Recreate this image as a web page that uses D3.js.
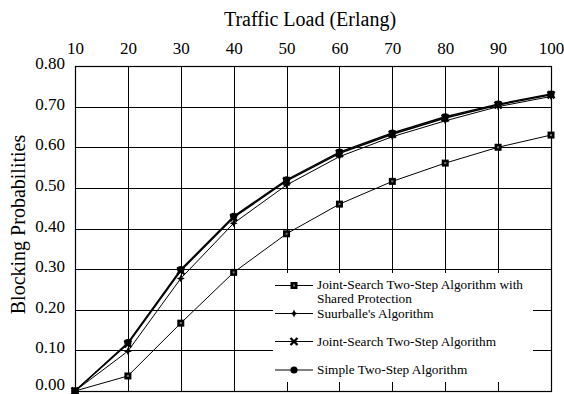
<!DOCTYPE html>
<html><head><meta charset="utf-8">
<script src="https://cdn.jsdelivr.net/npm/d3@7"></script>
<style>body{margin:0;background:#fff}svg{display:block}text{font-family:"Liberation Serif","Times New Roman",serif;fill:#000}</style>
</head><body>
<svg id="c" width="564" height="394"></svg>
<script>
const loads = [10,20,30,40,50,60,70,80,90,100];
const yTicks = [0,0.1,0.2,0.3,0.4,0.5,0.6,0.7,0.8];
const seriesNames = ["Joint-Search Two-Step Algorithm with|Shared Protection","Suurballe's Algorithm","Joint-Search Two-Step Algorithm","Simple Two-Step Algorithm"];
const sharedProt = [0.000,0.037,0.167,0.292,0.387,0.460,0.516,0.561,0.600,0.630];
const suurballe  = [0.000,0.098,0.277,0.413,0.507,0.577,0.626,0.665,0.700,0.725];
const jointSearch= [0.000,0.116,0.296,0.427,0.517,0.585,0.632,0.672,0.704,0.729];
const simple     = [0.000,0.119,0.299,0.430,0.520,0.588,0.635,0.675,0.706,0.731];
const seriesVals = [sharedProt,suurballe,jointSearch,simple];
const markers = ["square","diamond","cross","circle"];
const widths = [1,1,1.4,1.4];

const svg = d3.select("#c");
const L=75,R=551,T=66,B=391;
const x = d3.scaleLinear().domain([10,100]).range([L,R]);
const y = d3.scaleLinear().domain([0,0.8]).range([B,T]);

// gridlines
const g = svg.append("g");
g.selectAll(".vg").data(loads).enter().append("line")
 .attr("x1",d=>Math.round(x(d))+0.5).attr("x2",d=>Math.round(x(d))+0.5).attr("y1",T).attr("y2",B)
 .attr("stroke","#000").attr("stroke-width",1);
g.selectAll(".hg").data(yTicks).enter().append("line")
 .attr("y1",d=>Math.round(y(d))+0.5).attr("y2",d=>Math.round(y(d))+0.5).attr("x1",L).attr("x2",R)
 .attr("stroke","#000").attr("stroke-width",1);

// axes (labels only)
const xa = svg.append("g").attr("transform",`translate(0,${T})`)
 .call(d3.axisTop(x).tickValues(loads).tickSize(0).tickPadding(12).tickFormat(d3.format("d")));
xa.select(".domain").remove();
xa.selectAll("text").style("font-size","17px").style("font-family","Liberation Serif");
const ya = svg.append("g").attr("transform",`translate(${L},0)`)
 .call(d3.axisLeft(y).tickValues(yTicks).tickSize(0).tickPadding(10).tickFormat(d3.format(".2f")));
ya.select(".domain").remove();
ya.selectAll("text").style("font-size","17px").style("font-family","Liberation Serif")
 .attr("dy",d=>d===0?"-0.08em":"0.15em");

// border
svg.append("rect").attr("x",L+0.5).attr("y",T+0.5).attr("width",R-L).attr("height",B-T)
 .attr("fill","none").attr("stroke","#000").attr("stroke-width",1.2);

// titles
svg.append("text").attr("x",(L+R)/2-3).attr("y",26).attr("text-anchor","middle").style("font-size","20px").text("Traffic Load (Erlang)");
svg.append("text").attr("transform",`translate(25,${(T+B)/2-4}) rotate(-90)`).attr("text-anchor","middle").style("font-size","20px").text("Blocking Probabilities");

function drawMarker(sel,type,cx,cy){
  if(type==="square") {
    sel.append("rect").attr("x",cx-3.5).attr("y",cy-3.5).attr("width",7).attr("height",7).attr("fill","#000");
    sel.append("rect").attr("x",cx-1).attr("y",cy-1).attr("width",2).attr("height",2).attr("fill","#777");
  } else if(type==="diamond") {
    sel.append("path").attr("d",`M${cx},${cy-4}L${cx+1.2},${cy-1.2}L${cx+4},${cy}L${cx+1.2},${cy+1.2}L${cx},${cy+4}L${cx-1.2},${cy+1.2}L${cx-4},${cy}L${cx-1.2},${cy-1.2}Z`).attr("fill","#000");
  } else if(type==="cross") {
    sel.append("path").attr("d",`M${cx-3.5},${cy-3.5}L${cx+3.5},${cy+3.5}M${cx+3.5},${cy-3.5}L${cx-3.5},${cy+3.5}`).attr("stroke","#000").attr("stroke-width",2.4);
  } else {
    sel.append("circle").attr("cx",cx).attr("cy",cy).attr("r",3.6).attr("fill","#000");
  }
}

const line = d3.line().x((d,i)=>x(loads[i])).y(d=>y(d));
seriesVals.forEach((vals,si)=>{
  const sg = svg.append("g");
  sg.append("path").attr("d",line(vals)).attr("fill","none").attr("stroke","#000").attr("stroke-width",widths[si]);
  vals.forEach((v,i)=>drawMarker(sg,markers[si],x(loads[i]),y(v)));
});

// legend
const lg = svg.append("g");
lg.append("rect").attr("x",273).attr("y",273).attr("width",533-273).attr("height",382-273).attr("fill","#fff");
const rowsY = [285,313,341,369.5];
const textBase = [[288.5,303.4],[318.4],[345.5],[374]];
seriesNames.forEach((name,i)=>{
  const cy = rowsY[i];
  lg.append("line").attr("x1",275).attr("x2",313).attr("y1",cy+0.5).attr("y2",cy+0.5).attr("stroke","#000").attr("stroke-width",1);
  drawMarker(lg,markers[i],294,cy+0.5);
  const parts = name.split("|");
  parts.forEach((p,k)=>{
    lg.append("text").attr("x",317).attr("y",textBase[i][k]).style("font-size","13.3px").text(p);
  });
});
</script>
</body></html>
